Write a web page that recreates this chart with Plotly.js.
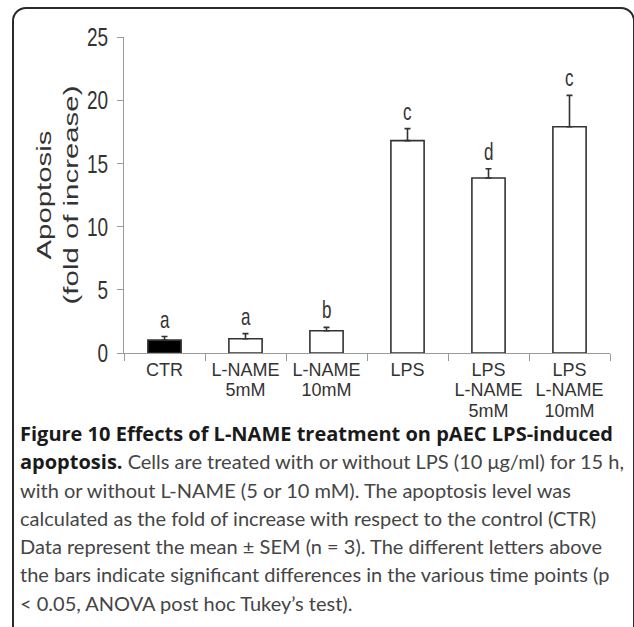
<!DOCTYPE html>
<html><head><meta charset="utf-8">
<script src="https://cdn.plot.ly/plotly-3.0.1.min.js"></script>
<style>
html,body{margin:0;padding:0;background:#fff;}
#wrap{position:relative;width:634px;height:627px;overflow:hidden;background:#fff;}
#chart{position:absolute;left:0;top:0;width:634px;height:627px;}
#frame{position:absolute;left:12px;top:7px;width:623px;height:660px;border:2px solid #2a2a2a;border-radius:14px;box-sizing:border-box;pointer-events:none;}
#caption{position:absolute;left:20px;top:424px;font-family:"Lato",sans-serif;font-size:20px;color:#454545;}
#caption div{height:18px;line-height:18px;margin-bottom:10.3px;white-space:nowrap;}
#caption b{font-family:"Open Sans",sans-serif;font-size:20px;color:#1a1a1a;font-weight:700;}
</style>
</head><body>
<div id="wrap">
<div id="chart"></div>
<div id="caption">
<div><b>Figure 10 Effects of L-NAME treatment on pAEC LPS-induced</b></div>
<div><b>apoptosis.</b> Cells are treated with or without LPS (10 μg/ml) for 15 h,</div>
<div>with or without L-NAME (5 or 10 mM). The apoptosis level was</div>
<div>calculated as the fold of increase with respect to the control (CTR)</div>
<div>Data represent the mean ± SEM (n = 3). The different letters above</div>
<div>the bars indicate significant differences in the various time points (p</div>
<div>&lt; 0.05, ANOVA post hoc Tukey’s test).</div>
</div>
<div id="frame"></div>
</div>
<script>
// ---- data ----
const categories = ["CTR", "L-NAME<br>5mM", "L-NAME<br>10mM", "LPS", "LPS<br>L-NAME<br>5mM", "LPS<br>L-NAME<br>10mM"];
const apoptosis = [1.02, 1.13, 1.76, 16.8, 13.85, 17.9];
const sem = [0.28, 0.4, 0.27, 0.95, 0.73, 2.48];
const letters = ["a", "a", "b", "c", "d", "c"];
const yTicks = [0, 5, 10, 15, 20, 25];

// ---- styles ----
const barFills = ["#000000", "#ffffff", "#ffffff", "#ffffff", "#ffffff", "#ffffff"];
const ink = "#333333";
const axisGray = "#9a9a9a";
const font = "Liberation Sans, Arial, sans-serif";

const trace = {
  type: "bar",
  x: categories,
  y: apoptosis,
  width: 0.41,
  marker: {color: barFills, line: {color: ink, width: 1.6}},
  error_y: {type: "data", array: sem, arrayminus: sem.map(() => 0), symmetric: false,
            color: ink, thickness: 1.6, width: 3},
  hoverinfo: "none"
};

const annotations = categories.map((c, i) => ({
  x: c, y: apoptosis[i] + sem[i], xref: "x", yref: "y",
  text: letters[i], showarrow: false, yanchor: "bottom", yshift: 5,
  font: {family: font, size: 17, color: ink}
}));

const layout = {
  width: 634, height: 627,
  margin: {l: 124, r: 24, t: 37, b: 274},
  paper_bgcolor: "rgba(0,0,0,0)", plot_bgcolor: "rgba(0,0,0,0)",
  showlegend: false,
  font: {family: font, color: ink},
  xaxis: {
    type: "category", range: [-0.5, 5.5], tickson: "boundaries",
    ticks: "outside", ticklen: 7, tickcolor: axisGray, tickwidth: 1,
    showline: true, linecolor: axisGray, linewidth: 1, showgrid: false, zeroline: false,
    tickfont: {family: font, size: 18, color: ink}, fixedrange: true
  },
  yaxis: {
    range: [0, 25], tickvals: yTicks, ticktext: yTicks.map(String),
    ticks: "outside", ticklen: 6, tickcolor: axisGray, tickwidth: 1,
    showline: true, linecolor: axisGray, linewidth: 1, showgrid: false, zeroline: false,
    tickfont: {family: font, size: 19, color: ink}, ticklabelstandoff: 5,
    title: {text: "Apoptosis<br>(fold of increase)", font: {family: font, size: 21, color: ink}, standoff: 2},
    fixedrange: true
  },
  annotations: annotations
};

function stretch(el, sx, sy) {
  const b = el.getBBox();
  const cx = b.x + b.width / 2, cy = b.y + b.height / 2;
  const t = el.getAttribute("transform") || "";
  el.setAttribute("transform", t + " translate(" + cx + "," + cy + ") scale(" + sx + "," + sy + ") translate(" + (-cx) + "," + (-cy) + ")");
}

Plotly.newPlot("chart", [trace], layout, {staticPlot: true}).then(() => {
  // tighten multi-line category labels to the reference's line pitch
  document.querySelectorAll(".xtick text tspan.line").forEach(ts => {
    const dy = ts.getAttribute("dy");
    if (dy) {
      const v = parseFloat(dy);
      if (v) ts.setAttribute("dy", (v * 1.14 / 1.3) + "em");
    }
  });
  document.querySelectorAll(".ytick text").forEach(el => stretch(el, 1, 1.4));
  document.querySelectorAll(".annotation-text").forEach(el => stretch(el, 1, 1.4));
  const yt = document.querySelector(".ytitle");
  if (yt) stretch(yt, 1.4, 1);
});
</script>
</body></html>
